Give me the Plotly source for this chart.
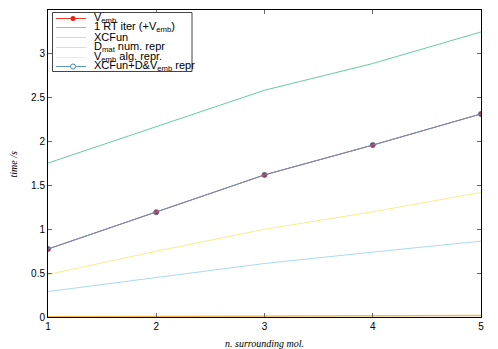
import plotly.graph_objects as go

n_mol = [1, 2, 3, 4, 5]
v_emb = [0.775, 1.195, 1.62, 1.96, 2.315]
rt_iter = [1.755, 2.17, 2.585, 2.89, 3.25]
xcfun = [0.29, 0.45, 0.61, 0.74, 0.865]
d_mat = [0.004, 0.008, 0.012, 0.015, 0.018]
v_alg = [0.485, 0.75, 1.0, 1.2, 1.42]
total = [0.775, 1.195, 1.62, 1.96, 2.315]

labels = ["V<sub>emb</sub>", "1 RT iter (+V<sub>emb</sub>)", "XCFun",
          "D<sub>mat</sub> num. repr", "V<sub>emb</sub> alg. repr.",
          "XCFun+D&V<sub>emb</sub> repr"]
colors = ["#f03a2a", "#66cba3", "#a8daf2", "#f5b947", "#f6ee8a", "#5e96c8"]
legend_colors = ["#f03a2a", "#72d0aa", "#b8e2f6", "#fbd7a0", "#f8f29c", "#5e96c8"]

fig = go.Figure()
fig.add_trace(go.Scatter(x=n_mol, y=v_emb, mode="lines+markers", name=labels[0],
                         line=dict(color=colors[0], width=1),
                         marker=dict(symbol="circle", size=5, color="#e01c16")))
fig.add_trace(go.Scatter(x=n_mol, y=rt_iter, mode="lines", name=labels[1],
                         line=dict(color=colors[1], width=1)))
fig.add_trace(go.Scatter(x=n_mol, y=xcfun, mode="lines", name=labels[2],
                         line=dict(color=colors[2], width=1)))
fig.add_trace(go.Scatter(x=n_mol, y=d_mat, mode="lines", name=labels[3],
                         line=dict(color=colors[3], width=1.5)))
fig.add_trace(go.Scatter(x=n_mol, y=v_alg, mode="lines", name=labels[4],
                         line=dict(color=colors[4], width=1)))
fig.add_trace(go.Scatter(x=n_mol, y=total, mode="lines+markers", name=labels[5],
                         line=dict(color=colors[5], width=1),
                         marker=dict(symbol="circle-open", size=5, color="#5a6fa8")))

# hand-drawn gnuplot-style legend (compact rows)
L, T = 48, 10          # plot area origin in page pixels (figure sits at an 8px body offset)
W, H = 433, 307
px = lambda x: (x - L) / W
py = lambda y: (T + H - y) / H
shapes = [dict(type="rect", xref="paper", yref="paper", x0=px(52.5), x1=px(192),
               y0=py(71.5), y1=py(12.5), line=dict(color="#444", width=1), fillcolor="white", layer="above")]
annots = []
rows = [18.5, 27.5, 37.5, 47.5, 57.5, 66.5]
for i, (lab, col, ry) in enumerate(zip(labels, legend_colors, rows)):
    shapes.append(dict(type="line", xref="paper", yref="paper", x0=px(56), x1=px(86),
                       y0=py(ry), y1=py(ry), line=dict(color=col, width=1), layer="above"))
    annots.append(dict(xref="paper", yref="paper", x=px(91.5), y=py(ry - 0.5), xanchor="left",
                       yanchor="middle", text=lab, showarrow=False,
                       font=dict(family="Liberation Sans", size=11, color="black")))
shapes.append(dict(type="circle", xref="paper", yref="paper", xsizemode="pixel", ysizemode="pixel",
                   xanchor=px(73), yanchor=py(rows[0]), x0=-2.5, x1=2.5, y0=-2.5, y1=2.5,
                   fillcolor="#e8201a", line=dict(color="#e8201a", width=0), layer="above"))
shapes.append(dict(type="circle", xref="paper", yref="paper", xsizemode="pixel", ysizemode="pixel",
                   xanchor=px(73), yanchor=py(rows[5]), x0=-2.5, x1=2.5, y0=-2.5, y1=2.5,
                   fillcolor="white", line=dict(color="#4a88c4", width=1), layer="above"))

annots.append(dict(xref="paper", yref="paper", x=px(264), y=py(343), xanchor="center", yanchor="middle",
                   text="<i>n. surrounding mol.</i>", showarrow=False,
                   font=dict(family="Liberation Serif", size=10, color="black")))
annots.append(dict(xref="paper", yref="paper", x=px(12.5), y=py(165), xanchor="center", yanchor="middle",
                   text="<i>time /s</i>", textangle=-90, showarrow=False,
                   font=dict(family="Liberation Serif", size=10, color="black")))

axis_common = dict(showline=True, linecolor="black", linewidth=1, mirror="allticks",
                   ticks="inside", ticklen=4, tickcolor="#666", showgrid=False, zeroline=False,
                   automargin=False,
                   tickfont=dict(family="Liberation Sans", size=10, color="black"))

fig.update_layout(
    width=490, height=341,
    margin=dict(l=L - 8, r=490 - (L - 8) - W, t=T - 8, b=341 - (T - 8) - H),
    paper_bgcolor="white", plot_bgcolor="white",
    xaxis=dict(range=[1, 5], dtick=1, **axis_common),
    yaxis=dict(range=[0, 3.5], dtick=0.5, **axis_common),
    shapes=shapes, annotations=annots,
    showlegend=False,
)

fig.write_html("out.html")
